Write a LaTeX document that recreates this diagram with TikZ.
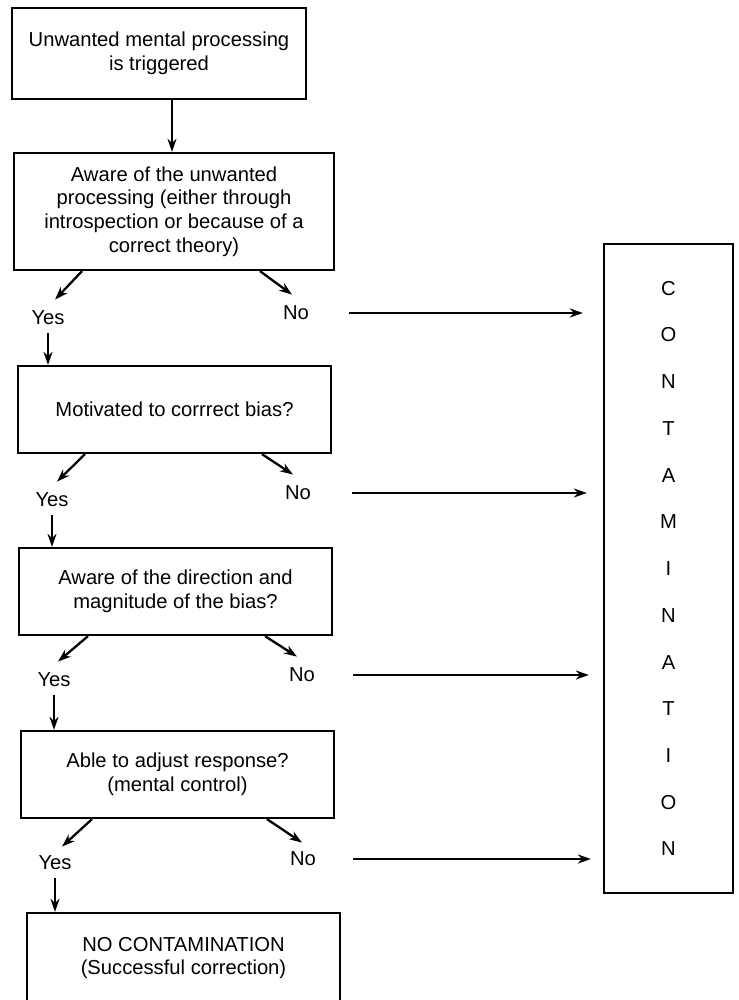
\documentclass[tikz,border=0pt]{standalone}
\usepackage{fontspec}
\setmainfont{Liberation Sans}
\usetikzlibrary{arrows.meta}
\begin{document}
\begin{tikzpicture}[x=0.02cm,y=-0.02cm,
  txt/.style={font=\fontsize{11.5}{13.4}\selectfont},
  boxnode/.style={draw, line width=1.3pt, align=center, inner sep=0pt, txt},
  lab/.style={inner sep=0pt, txt},
  arr/.style={line width=1.3pt, -{Stealth[length=0.26cm,width=0.18cm]}}]
\useasboundingbox (0,0) rectangle (738,1000);
\clip (0,0) rectangle (738,1000);
\node[boxnode, minimum width=5.88cm, minimum height=1.82cm] (b1) at (159,53.5)
  {Unwanted mental processing\\is triggered};
\node[boxnode, minimum width=6.4cm, minimum height=2.34cm] (b2) at (174,211.5)
  {Aware of the unwanted\\processing (either through\\introspection or because of a\\correct theory)};
\node[boxnode, minimum width=6.26cm, minimum height=1.74cm] (b3) at (174.5,409.5)
  {Motivated to corrrect bias?};
\node[boxnode, minimum width=6.26cm, minimum height=1.74cm] (b4) at (175.5,591.5)
  {Aware of the direction and\\magnitude of the bias?};
\node[boxnode, minimum width=6.26cm, minimum height=1.74cm] (b5) at (177.5,774.5)
  {Able to adjust response?\\(mental control)};
\node[boxnode, minimum width=6.26cm, minimum height=1.8cm] (b6) at (183.5,958)
  {NO CONTAMINATION\\(Successful correction)};
\node[boxnode, minimum width=2.58cm, minimum height=12.98cm,
  font=\fontsize{11.5}{26.6}\selectfont] (cont) at (668.5,568.5)
  {C\\O\\N\\T\\A\\M\\I\\N\\A\\T\\I\\O\\N};
% labels
\node[lab] (y1) at (48,318) {Yes};
\node[lab] (n1) at (296,313) {No};
\node[lab] (y2) at (52,500) {Yes};
\node[lab] (n2) at (298,493) {No};
\node[lab] (y3) at (54,680) {Yes};
\node[lab] (n3) at (302,675) {No};
\node[lab] (y4) at (55,863) {Yes};
\node[lab] (n4) at (303,859) {No};
% arrows
\draw[arr] (b1.south -| 172,0) -- (b2.north -| 172,0);
\draw[arr] (b2.south -| 82,0) -- ([shift={(7,-11)}]y1.north);
\draw[arr] (b2.south -| 260,0) -- ([shift={(-4,-11)}]n1.north);
\draw[arr] (b3.south -| 85,0) -- ([shift={(5,-11)}]y2.north);
\draw[arr] (b3.south -| 262,0) -- ([shift={(-5,-11)}]n2.north);
\draw[arr] (b4.south -| 88,0) -- ([shift={(4,-11)}]y3.north);
\draw[arr] (b4.south -| 265,0) -- ([shift={(-5,-11)}]n3.north);
\draw[arr] (b5.south -| 92,0) -- ([shift={(7,-9)}]y4.north);
\draw[arr] (b5.south -| 267,0) -- ([shift={(-1,-9)}]n4.north);
\draw[arr] ([yshift=-0.16cm]y1.south) -- (b3.north -| y1.south);
\draw[arr] ([yshift=-0.16cm]y2.south) -- (b4.north -| y2.south);
\draw[arr] ([yshift=-0.16cm]y3.south) -- (b5.north -| y3.south);
\draw[arr] ([yshift=-0.16cm]y4.south) -- (b6.north -| y4.south);
\draw[arr] (n1.center -| 349,0) -- ([xshift=-0.4cm]cont.west |- n1.center);
\draw[arr] (n2.center -| 352,0) -- ([xshift=-0.32cm]cont.west |- n2.center);
\draw[arr] (n3.center -| 353,0) -- ([xshift=-0.28cm]cont.west |- n3.center);
\draw[arr] (n4.center -| 353,0) -- ([xshift=-0.24cm]cont.west |- n4.center);
\end{tikzpicture}
\end{document}
